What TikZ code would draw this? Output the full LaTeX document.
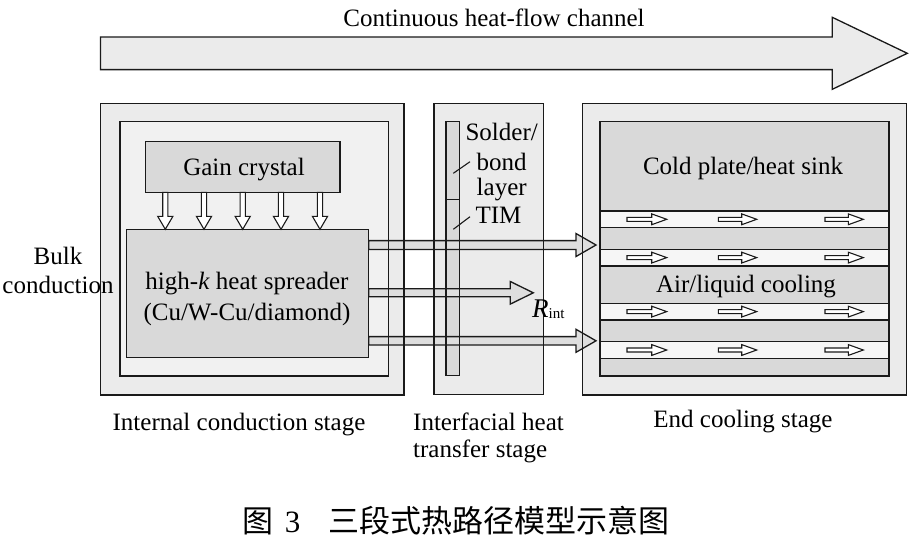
\documentclass[tikz,border=0pt]{standalone}
\usepackage{fontspec}
\setmainfont{Liberation Serif}
\newfontfamily\cjk{Noto Sans CJK SC}
\definecolor{lnc}{HTML}{1A1A1A}
\definecolor{stagefill}{HTML}{EBEBEB}
\definecolor{innerfill}{HTML}{F1F1F1}
\definecolor{darkfill}{HTML}{D9D9D9}
\definecolor{stripfill}{HTML}{F6F6F6}
\definecolor{arrfill}{HTML}{DEDEDE}
\newcommand\harr[7]{%
  \draw[#7] (#1,#3-#4) -- (#2-#6,#3-#4) -- (#2-#6,#3-#5) -- (#2,#3) -- (#2-#6,#3+#5) -- (#2-#6,#3+#4) -- (#1,#3+#4) -- cycle;}
\newcommand\varr[7]{%
  \draw[#7] (#1-#4,#2) -- (#1-#4,#3-#6) -- (#1-#5,#3-#6) -- (#1,#3) -- (#1+#5,#3-#6) -- (#1+#4,#3-#6) -- (#1+#4,#2) -- cycle;}
\tikzset{
  boxA/.style={draw=lnc, line width=1.4pt, inner sep=0pt, outer sep=0pt, anchor=north west},
  outline/.style={draw=lnc, line width=1.4pt},
  arrA/.style={draw=lnc, line width=1.3pt, fill=arrfill, line join=miter},
  arrW/.style={draw=lnc, line width=1.1pt, fill=white, line join=miter},
  txt/.style={inner sep=0pt, font=\fontsize{25}{29}\selectfont},
  lead/.style={draw=lnc, line width=1.1pt}
}
\begin{document}
\begin{tikzpicture}[x=1pt,y=-1pt]
\useasboundingbox (0,0) rectangle (923,539);
\fill[white] (0,0) rectangle (923,539);
% top big arrow
\harr{100.5}{907.3}{53.3}{16.3}{36}{75}{arrA, fill=stagefill}
\node[txt] (chan) at (494,18) {Continuous heat-flow channel};
% left stage
\node[boxA, fill=stagefill, minimum width=303.3pt, minimum height=291.7pt] (outerL) at (100.7,103.3) {};
\node[boxA, fill=innerfill, minimum width=268.3pt, minimum height=254.3pt] (innerL) at (120,121.7) {};
\node[boxA, fill=darkfill, minimum width=194.3pt, minimum height=50.6pt] (gain) at (145.7,141.7) {};
\node[boxA, fill=darkfill, minimum width=242pt, minimum height=128.4pt] (spread) at (126.7,229.3) {};
% middle stage
\node[boxA, fill=stagefill, minimum width=109.3pt, minimum height=291.2pt] (outerM) at (434,103.3) {};
\node[boxA, fill=darkfill, minimum width=13.3pt, minimum height=77.6pt] (solder) at (446,121.7) {};
\node[boxA, fill=darkfill, minimum width=13.3pt, minimum height=176.4pt] (tim) at (446,199.3) {};
% right stage
\node[boxA, fill=stagefill, minimum width=324.4pt, minimum height=291.7pt] (outerR) at (582.3,103.3) {};
\node[boxA, fill=darkfill, minimum width=289pt, minimum height=254.3pt] (innerR) at (600,121.7) {};
\node[boxA, fill=stripfill, minimum width=289pt, minimum height=16.7pt] (ch1) at (600,211) {};
\node[boxA, fill=stripfill, minimum width=289pt, minimum height=16.7pt] (ch2) at (600,249.3) {};
\node[boxA, fill=stripfill, minimum width=289pt, minimum height=16.7pt] (ch3) at (600,303.3) {};
\node[boxA, fill=stripfill, minimum width=289pt, minimum height=16.7pt] (ch4) at (600,341.7) {};
% down arrows from gain crystal to spreader
\foreach \xx in {165.3,204,242.7,281,320}{
  \varr{\xx}{192.3}{229.3}{2.6}{7.6}{13}{arrW}
}
% horizontal heat arrows
\harr{368.7}{596}{245}{4.4}{11.5}{20}{arrA}
\harr{368.7}{533.3}{292.8}{4.0}{11.3}{23}{arrA}
\harr{368.7}{596}{340.8}{4.2}{11.5}{20}{arrA}
% redraw outlines on top
\draw[outline] (outerL.north west) rectangle (outerL.south east);
\draw[outline] (innerL.north west) rectangle (innerL.south east);
\draw[outline] (outerM.north west) rectangle (outerM.south east);
\draw[outline] (solder.north west) rectangle (tim.south east);
\draw[outline] (solder.south west) -- (solder.south east);
\draw[outline] (outerR.north west) rectangle (outerR.south east);
\draw[outline] (innerR.north west) rectangle (innerR.south east);
% coolant flow arrows
\foreach \yy in {219.3,257.6,311.6,350}{
  \harr{627}{666.7}{\yy}{2}{5.4}{15}{arrW}
  \harr{718.3}{756.7}{\yy}{2}{5.4}{15}{arrW}
  \harr{825}{863.3}{\yy}{2}{5.4}{15}{arrW}
}
% leader lines
\coordinate (l1) at (470,161.7);
\coordinate (l2) at (470,216.7);
\draw[lead] (453.3,173.3) -- (l1);
\draw[lead] (453.3,229.3) -- (l2);
% texts
\node[txt] (bulk1) at (58,256) {Bulk};
\node[txt] (bulk2) at (58,285) {conduction};
\node[txt] (gaintxt) at (244,170) {Gain crystal};
\node[txt] (sp1) at (247,284) {high-\textit{k} heat spreader};
\node[txt] (sp2) at (247,314) {(Cu/W-Cu/diamond)};
\node[txt] (t1) at (501.7,132) {Solder/};
\node[txt] (t2) at (501.7,162) {bond};
\node[txt] (t3) at (501.7,190) {layer};
\node[txt] (t4) at (498.5,215.5) {TIM};
\node[txt, anchor=base west] (rint) at (532,317) {\fontsize{27}{30}\selectfont\textit{R}\raisebox{-1pt}{\fontsize{15}{17}\selectfont int}};
\node[txt] (cold) at (743,168) {Cold plate/heat sink};
\node[txt] (air) at (746,287) {Air/liquid cooling};
\node[txt] (lab1) at (239,425) {Internal conduction stage};
\node[txt, anchor=west] (lab2a) at (413,422) {Interfacial heat};
\node[txt, anchor=west] (lab2b) at (413,451) {transfer stage};
\node[txt] (lab3) at (743,422) {End cooling stage};
\node[inner sep=0pt, font=\fontsize{31}{34}\selectfont] (cap) at (456,521) {{\cjk 图}\hspace{11pt}3\hspace{28pt}{\cjk 三段式热路径模型示意图}};
\end{tikzpicture}
\end{document}
